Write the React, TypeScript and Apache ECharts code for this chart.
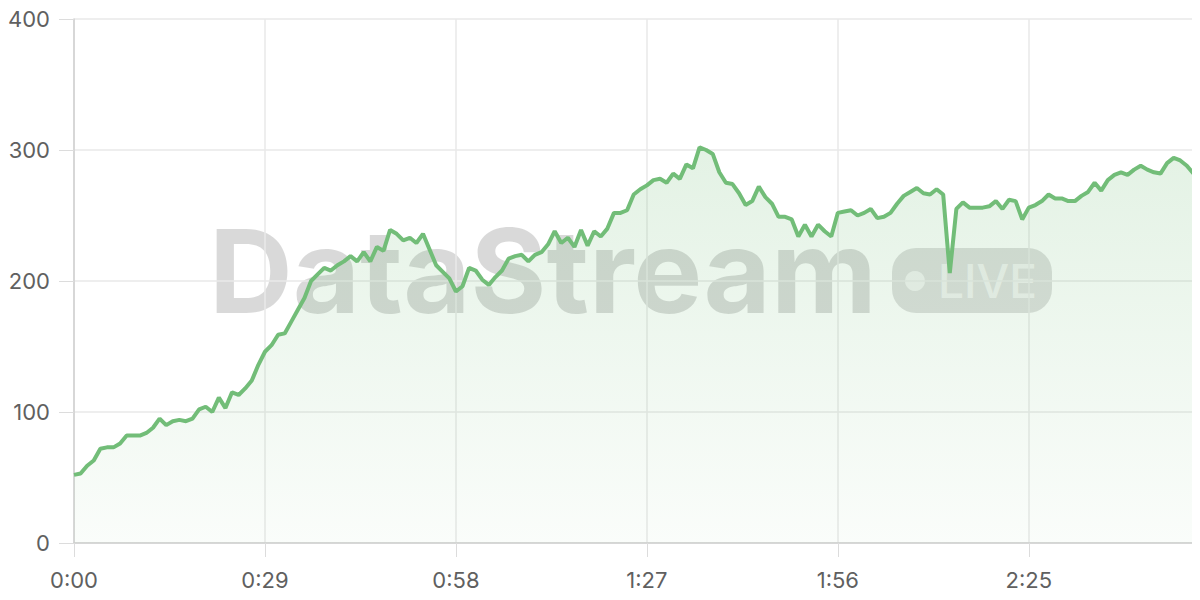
import React, { useEffect, useRef } from "react";
import * as echarts from "echarts";

// one category per second; the axis runs one second past the last sample
const seconds: number[] = Array.from({ length: 172 }, (_, i) => i);
const timeLabels: string[] = seconds.map(
  (s) => `${Math.floor(s / 60)}:${String(s % 60).padStart(2, "0")}`
);

const values: number[] = [
  52, 53, 59, 63, 72, 73, 73, 76, 82, 82,
  82, 84, 88, 95, 90, 93, 94, 93, 95, 102,
  104, 100, 111, 103, 115, 113, 118, 124, 136, 146,
  151, 159, 160, 169, 178, 187, 200, 205, 210, 208,
  212, 215, 219, 215, 222, 215, 226, 223, 239, 236,
  231, 233, 229, 236, 224, 212, 207, 202, 192, 196,
  210, 208, 201, 197, 203, 208, 217, 219, 220, 215,
  220, 222, 228, 238, 229, 233, 226, 239, 227, 238,
  234, 240, 252, 252, 254, 266, 270, 273, 277, 278,
  275, 282, 278, 289, 286, 302, 300, 297, 283, 275,
  274, 267, 258, 261, 272, 264, 259, 249, 249, 247,
  234, 243, 234, 243, 238, 234, 252, 253, 254, 250,
  252, 255, 248, 249, 252, 259, 265, 268, 271, 267,
  266, 270, 266, 206, 255, 260, 256, 256, 256, 257,
  261, 255, 262, 261, 247, 256, 258, 261, 266, 263,
  263, 261, 261, 265, 268, 275, 269, 277, 281, 283,
  281, 285, 288, 285, 283, 282, 290, 294, 292, 288,
  282,
];

const yTicks = { min: 0, max: 400, interval: 100 };
const watermarkTitle = "DataStream";
const watermarkBadge = "LIVE";

const FONT = "Inter, 'Noto Sans', sans-serif";

export default function App() {
  const ref = useRef<HTMLDivElement>(null);
  useEffect(() => {
    if (!ref.current) return;
    const chart = echarts.init(ref.current, undefined, { renderer: "svg" });
    chart.setOption({
      animation: false,
      grid: { left: 74, right: 0, top: 19, bottom: 57 },
      graphic: [
        {
          type: "text",
          z: -1,
          x: 209,
          y: 271,
          style: {
            text: watermarkTitle,
            font: `bold 116px ${FONT}`,
            fill: "rgba(0,0,0,0.15)",
            textAlign: "left",
            textVerticalAlign: "middle",
          },
        },
        {
          type: "rect",
          z: -1,
          shape: { x: 892, y: 248, width: 160, height: 65, r: 24 },
          style: { fill: "rgba(0,0,0,0.13)" },
        },
        {
          type: "circle",
          z: -1,
          shape: { cx: 915, cy: 281, r: 10 },
          style: { fill: "rgba(255,255,255,0.6)" },
        },
        {
          type: "text",
          z: -1,
          x: 938,
          y: 281,
          style: {
            text: watermarkBadge,
            font: `500 46px ${FONT}`,
            fill: "rgba(255,255,255,0.62)",
            textAlign: "left",
            textVerticalAlign: "middle",
          },
        },
      ],
      xAxis: {
        type: "category",
        data: timeLabels,
        boundaryGap: false,
        axisLine: { lineStyle: { color: "#cfcfcf", width: 1.5 } },
        axisTick: { show: true, interval: 28, length: 14, lineStyle: { color: "#dcdcdc" } },
        axisLabel: {
          interval: 28,
          margin: 26,
          fontSize: 22,
          fontFamily: FONT,
          color: "#606060",
        },
        splitLine: { show: true, interval: 28, lineStyle: { color: "#e8e8e8", width: 1.5 } },
      },
      yAxis: {
        type: "value",
        min: yTicks.min,
        max: yTicks.max,
        interval: yTicks.interval,
        axisLine: { show: true, lineStyle: { color: "#cfcfcf", width: 1.5 } },
        axisTick: { show: true, length: 15, lineStyle: { color: "#dcdcdc" } },
        axisLabel: {
          margin: 24,
          fontSize: 22,
          fontFamily: FONT,
          color: "#606060",
        },
        splitLine: { show: true, lineStyle: { color: "#e8e8e8", width: 1.5 } },
      },
      series: [
        {
          type: "line",
          data: values,
          showSymbol: false,
          symbol: "none",
          lineStyle: { color: "#72bd78", width: 4 },
          itemStyle: { color: "#72bd78" },
          areaStyle: {
            color: new echarts.graphic.LinearGradient(0, 0, 0, 1, [
              { offset: 0, color: "rgba(114,189,120,0.28)" },
              { offset: 1, color: "rgba(114,189,120,0.05)" },
            ]),
          },
        },
      ],
    });
    return () => chart.dispose();
  }, []);
  return <div ref={ref} style={{ width: 1200, height: 600, margin: -8 }} />;
}
